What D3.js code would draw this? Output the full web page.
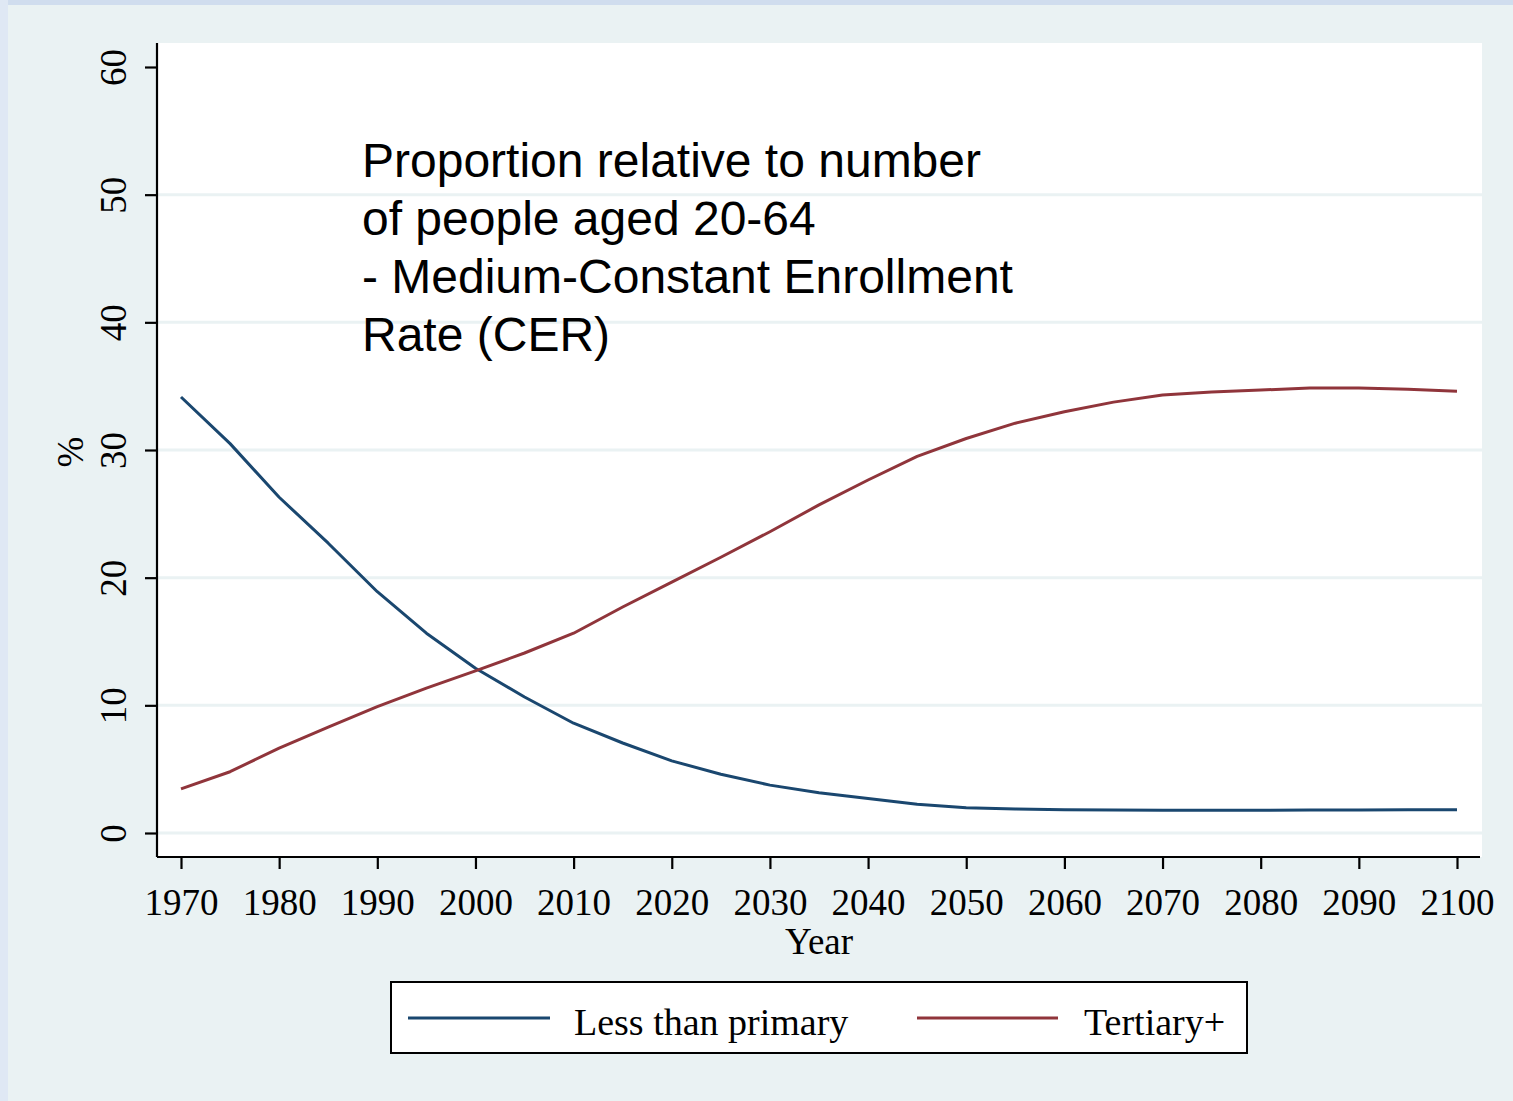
<!DOCTYPE html>
<html>
<head>
<meta charset="utf-8">
<script src="https://cdn.jsdelivr.net/npm/d3@7"></script>
<style>
  html, body { margin: 0; padding: 0; background: #eaf2f3; }
  svg { display: block; }
</style>
</head>
<body>
<svg id="chart" width="1513" height="1101"></svg>
<script>
// Education shares projected to 2100, as % of people aged 20-64
const years = [1970, 1975, 1980, 1985, 1990, 1995, 2000, 2005, 2010, 2015, 2020, 2025, 2030,
               2035, 2040, 2045, 2050, 2055, 2060, 2065, 2070, 2075, 2080, 2085, 2090, 2095, 2100];
const lessThanPrimary = [34.15, 30.5, 26.3, 22.7, 18.9, 15.65, 12.9, 10.65, 8.6, 7.05, 5.65, 4.6, 3.75,
                         3.15, 2.7, 2.25, 1.98, 1.88, 1.82, 1.8, 1.78, 1.78, 1.78, 1.8, 1.8, 1.82, 1.82];
const tertiaryPlus = [3.45, 4.8, 6.65, 8.3, 9.9, 11.35, 12.7, 14.1, 15.65, 17.7, 19.65, 21.6, 23.6,
                      25.7, 27.65, 29.5, 30.9, 32.1, 33.0, 33.75, 34.3, 34.55, 34.7, 34.85, 34.85, 34.75, 34.6];
const seriesNames = ["Less than primary", "Tertiary+"];
const seriesColors = ["#1a476f", "#90353b"];
const xTicks = d3.range(1970, 2101, 10);
const yTicks = [0, 10, 20, 30, 40, 50, 60];
const gridValues = [0, 10, 20, 30, 40, 50];
const noteLines = ["Proportion relative to number", "of people aged 20-64",
                   "- Medium-Constant Enrollment", "Rate (CER)"];

const svg = d3.select("#chart");
const serif = "'Liberation Serif', 'Times New Roman', serif";
const sans = "'Liberation Sans', Arial, Helvetica, sans-serif";

// page framing
svg.append("rect").attr("x", 0).attr("y", 0).attr("width", 1513).attr("height", 1101).attr("fill", "#eaf2f3");
svg.append("rect").attr("x", 0).attr("y", 0).attr("width", 1513).attr("height", 5).attr("fill", "#d0ddee");
svg.append("rect").attr("x", 0).attr("y", 0).attr("width", 8).attr("height", 1101).attr("fill", "#dfe8f4");

// plot region
const plot = { left: 157, top: 43, right: 1482, bottom: 857 };
svg.append("rect")
  .attr("x", plot.left).attr("y", plot.top)
  .attr("width", plot.right - plot.left).attr("height", plot.bottom - plot.top)
  .attr("fill", "#ffffff");

const x = d3.scaleLinear().domain([1970, 2100]).range([181, 1457]);
const y = d3.scaleLinear().domain([0, 60]).range([833, 67]);

// horizontal grid
svg.append("g").selectAll("line").data(gridValues).join("line")
  .attr("x1", plot.left + 1).attr("x2", plot.right)
  .attr("y1", d => y(d)).attr("y2", d => y(d))
  .attr("stroke", "#eaf2f3").attr("stroke-width", 3);

// series
const rows = [lessThanPrimary, tertiaryPlus];
const line = d3.line().x((d, i) => x(years[i])).y(d => y(d));
rows.forEach((vals, k) => {
  svg.append("path").datum(vals)
    .attr("d", line)
    .attr("fill", "none")
    .attr("stroke", seriesColors[k])
    .attr("stroke-width", 3)
    .attr("stroke-linejoin", "round");
});

// y axis
const yAxis = svg.append("g").attr("transform", `translate(${plot.left},0)`)
  .call(d3.axisLeft(y).tickValues(yTicks).tickSize(12).tickPadding(0).tickSizeOuter(0));
yAxis.select(".domain").attr("d", `M0,${plot.top}V${plot.bottom}`).attr("stroke", "#000").attr("stroke-width", 2.2);
yAxis.selectAll(".tick line").attr("stroke", "#000").attr("stroke-width", 2.2);
yAxis.selectAll(".tick text")
  .attr("x", null).attr("dy", null)
  .attr("text-anchor", "middle")
  .attr("transform", "translate(-43,0) rotate(-90)")
  .attr("dominant-baseline", "auto")
  .attr("y", 12)
  .style("font-family", serif).style("font-size", "37px").attr("fill", "#000");

// x axis
const xAxis = svg.append("g").attr("transform", `translate(0,${plot.bottom})`)
  .call(d3.axisBottom(x).tickValues(xTicks).tickFormat(d3.format("d")).tickSize(12).tickPadding(20).tickSizeOuter(0));
xAxis.select(".domain").attr("d", `M${plot.left},0H${plot.right - 2}`).attr("stroke", "#000").attr("stroke-width", 2.2);
xAxis.selectAll(".tick line").attr("stroke", "#000").attr("stroke-width", 2.2);
xAxis.selectAll(".tick text")
  .style("font-family", serif).style("font-size", "37px").attr("fill", "#000");

// axis titles
svg.append("text").attr("transform", "translate(83,452) rotate(-90)")
  .attr("text-anchor", "middle")
  .style("font-family", serif).style("font-size", "37px").text("%");
svg.append("text").attr("x", 819).attr("y", 954)
  .attr("text-anchor", "middle")
  .style("font-family", serif).style("font-size", "37px").text("Year");

// annotation
const note = svg.append("text")
  .style("font-family", sans).style("font-size", "48px").attr("fill", "#000");
noteLines.forEach((t, i) => {
  note.append("tspan").attr("x", 362).attr("y", 177 + i * 58).text(t);
});

// legend
const legend = svg.append("g");
legend.append("rect").attr("x", 391).attr("y", 982).attr("width", 856).attr("height", 71)
  .attr("fill", "#ffffff").attr("stroke", "#000").attr("stroke-width", 2);
const legendItems = [
  { x1: 408, x2: 550, tx: 574 },
  { x1: 917, x2: 1058, tx: 1084 }
];
legendItems.forEach((it, k) => {
  legend.append("line").attr("x1", it.x1).attr("x2", it.x2).attr("y1", 1018).attr("y2", 1018)
    .attr("stroke", seriesColors[k]).attr("stroke-width", 3);
  legend.append("text").attr("x", it.tx).attr("y", 1035)
    .style("font-family", serif).style("font-size", "38px").text(seriesNames[k]);
});
</script>
</body>
</html>
